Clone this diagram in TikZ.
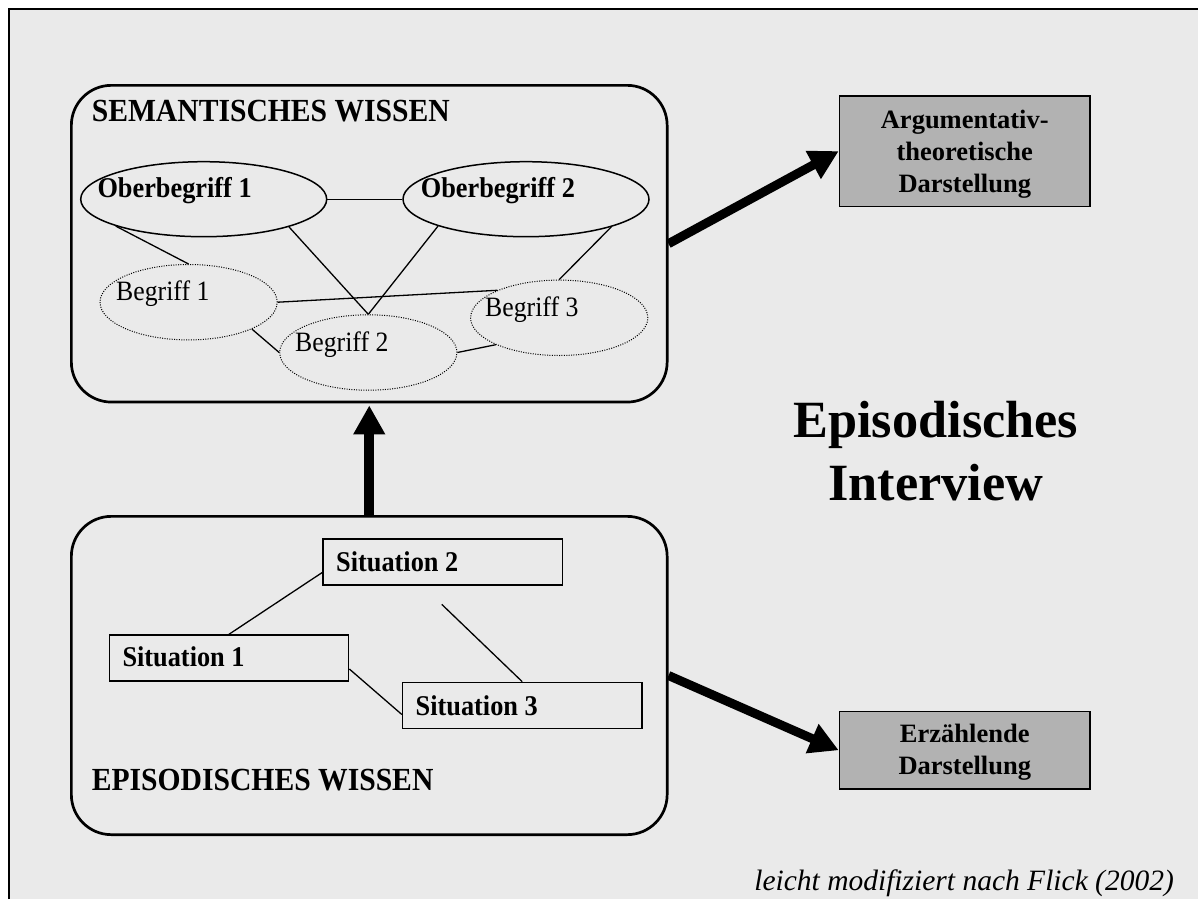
\documentclass[tikz,border=0pt]{standalone}
\usepackage{fontspec}
\setmainfont{Liberation Serif}
\newfontfamily\panelfont{Liberation Serif}[FakeStretch=0.92]
\usetikzlibrary{arrows.meta,shapes.geometric,calc}
\definecolor{bgc}{RGB}{234,234,234}
\definecolor{boxc}{RGB}{178,178,178}
\begin{document}
\begin{tikzpicture}[x=1pt,y=-1pt,
  region/.style={draw, line width=2.7pt, rounded corners=40pt, inner sep=0pt, anchor=north west, minimum width=595.8pt},
  heading/.style={inner sep=0pt, anchor=base west, font=\panelfont\fontsize{32.2}{38}\selectfont\bfseries},
  ober/.style={ellipse, draw, line width=1.5pt, inner sep=0pt, minimum width=246pt, minimum height=75pt},
  begr/.style={ellipse, draw, line width=1pt, dash pattern=on 1pt off 1.4pt, inner sep=0pt, minimum width=177.2pt, minimum height=75.4pt},
  otext/.style={inner sep=0pt, anchor=base west, font=\panelfont\fontsize{28.6}{34}\selectfont\bfseries},
  btext/.style={inner sep=0pt, anchor=base west, font=\panelfont\fontsize{28}{33}\selectfont},
  sit/.style={draw, line width=1.5pt, inner sep=0pt, anchor=north west, minimum width=239.4pt, minimum height=46pt},
  conn/.style={line width=1.3pt},
  outbox/.style={draw, fill=boxc, line width=1.5pt, inner sep=0pt, anchor=north west, minimum width=250.6pt},
  outtext/.style={inner sep=0pt, align=center, font=\fontsize{26.5}{31.7}\selectfont\bfseries},
  bigarrow/.style={line width=10pt, -{Triangle[length=29pt,width=30pt]}},
  bigt/.style={inner sep=0pt, anchor=base, font=\fontsize{52.3}{62.7}\selectfont\bfseries},
  foot/.style={inner sep=0pt, anchor=base east, font=\fontsize{29.5}{35}\selectfont\itshape}
]
\useasboundingbox (0,0) rectangle (1198,899);
\fill[white] (0,0) rectangle (1198,899);
\fill[bgc] (9,9) rectangle (1198,899);
\draw[line width=2pt] (9,899) -- (9,9) -- (1198,9);

% regions
\node[region, minimum height=316.7pt] (sem) at (70,84) {};
\node[region, minimum height=318.3pt] (epi) at (70,515) {};
\node[heading] (semt) at (91.6,121.7) {SEMANTISCHES WISSEN};
\node[heading] (epit) at (91.6,790) {EPISODISCHES WISSEN};

% semantic network
\node[ober] (ob1) at (203.7,199.2) {};
\node[ober] (ob2) at (526,199.2) {};
\node[otext] (ob1t) at (97.3,197.7) {Oberbegriff 1};
\node[otext] (ob2t) at (420.6,197.7) {Oberbegriff 2};
\node[begr] (b1) at (188.6,302.2) {};
\node[begr] (b2) at (368.3,352.5) {};
\node[begr] (b3) at (559.2,317.8) {};
\node[btext] (b1t) at (116,300) {Begriff 1};
\node[btext] (b2t) at (295,351) {Begriff 2};
\node[btext] (b3t) at (485,316) {Begriff 3};

\draw[conn] (ob1.east) -- (ob2.west);
\draw[conn] (ob1.197.4) -- (b1.north);
\draw[conn] (ob1.342.7) -- (b2.north);
\draw[conn] (ob2.197.5) -- (b2.north);
\draw[conn] (ob2.342.6) -- (b3.north);
\draw[conn] (b1.east) -- (b3.156);
\draw[conn] (b1.337.4) -- (b2.west);
\draw[conn] (b2.east) -- (b3.203);

% episodic network
\node[sit] (s2) at (322.3,538.3) {};
\node[sit] (s1) at (108.5,634.3) {};
\node[sit] (s3) at (401.8,681.7) {};
\node[otext] (s2t) at (336,571.7) {Situation 2};
\node[otext] (s1t) at (122.3,666.7) {Situation 1};
\node[otext] (s3t) at (415.5,715) {Situation 3};
\coordinate (f) at (441.7,604.3);
\draw[conn] (s1.north) -- ([yshift=-10.4pt]s2.west);
\draw[conn] ([yshift=-11pt]s1.east) -- ([yshift=-9pt]s3.west);
\draw[conn] (f) -- (s3.north);

% outputs
\node[outbox, minimum height=110.7pt] (arg) at (838.7,95) {};
\node[outtext] (argt) at ([yshift=-3pt]arg.center) {Argumentativ-\\theoretische\\Darstellung};
\node[outbox, minimum height=77.6pt] (erz) at (838.7,710.7) {};
\node[outtext] (erzt) at ([yshift=-2pt]erz.center) {Erzählende\\Darstellung};

% arrows
\draw[bigarrow, shorten >=2pt] (epi.north) -- (sem.south);
\draw[bigarrow, line width=9pt] (sem.east) -- (arg.west);
\draw[bigarrow, line width=9pt] (epi.east) -- (erz.west);

% title and note
\node[bigt] (t1) at (935.8,437.3) {Episodisches};
\node[bigt] (t2) at (935.8,500) {Interview};
\node[foot] (fn) at (1174,890) {leicht modifiziert nach Flick (2002)};
\end{tikzpicture}
\end{document}
